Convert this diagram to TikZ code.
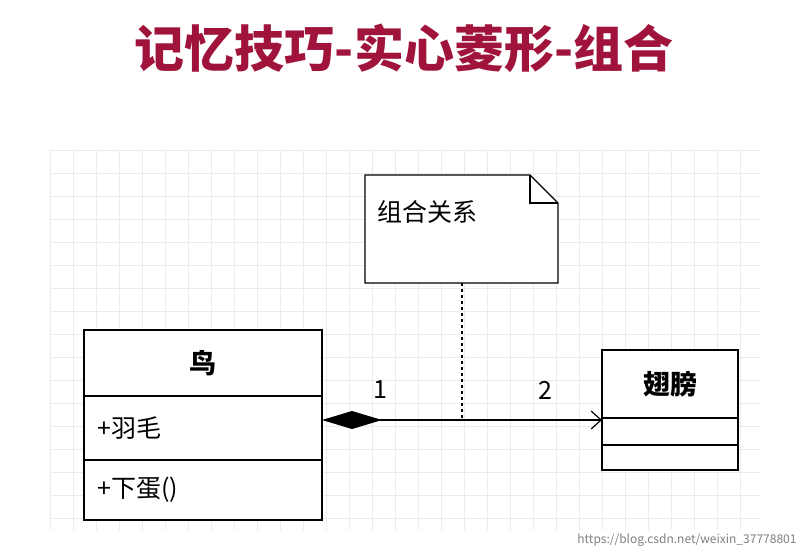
\documentclass[tikz,border=0pt]{standalone}
\usepackage{fontspec}
\setmainfont{Noto Sans CJK SC}
\usetikzlibrary{arrows.meta,shapes.geometric}
\definecolor{titlered}{RGB}{160,20,60}
\tikzset{box/.style={draw,line width=1.2pt,fill=white},
txt/.style={font=\fontsize{25}{30}\selectfont}}
\begin{document}
\begin{tikzpicture}[x=1pt,y=-1pt]
\useasboundingbox (0,0) rectangle (808,558);
\fill[white] (0,0) rectangle (808,558);
\foreach \x in {50,73,...,760} \draw[black!8,line width=0.5pt] (\x,150) -- (\x,530);
\foreach \y in {150,173,...,530} \draw[black!8,line width=0.5pt] (50,\y) -- (760,\y);
\node[titlered,font=\fontsize{50}{58}\selectfont\bfseries] (title) at (404,48) {记忆技巧-实心菱形-组合};
% note
\draw[box] (365,175) -- (530,175) -- (558,203) -- (558,283) -- (365,283) -- cycle;
\draw[line width=1.2pt] (530,175) -- (530,203) -- (558,203);
\node[txt,anchor=west] (note) at (374,212) {组合关系};
\coordinate (nb) at (462,283);
\coordinate (nl) at (462,420);
\draw[dashed,line width=1.2pt] (nb) -- (nl);
% bird
\draw[box] (84,330) rectangle (322,520);
\draw[line width=1.2pt] (84,396) -- (322,396) (84,460) -- (322,460);
\node[txt,font=\fontsize{27}{30}\selectfont\bfseries] (bird) at (203,363) {鸟};
\node[txt,anchor=west] (a1) at (94,428) {+羽毛};
\node[txt,anchor=west] (a2) at (94,490) {+下蛋()};
% wing
\draw[box] (602,350) rectangle (738,470);
\draw[line width=1.2pt] (602,418) -- (738,418) (602,445) -- (738,445);
\node[txt,font=\fontsize{27}{30}\selectfont\bfseries] (wing) at (670,384) {翅膀};
\coordinate (bs) at (322,420);
\coordinate (we) at (602,420);
\draw[line width=1.2pt,{Diamond[length=60pt,width=18pt]}-{Straight Barb[length=10pt,width=18pt]}] (bs) -- (we);
\node[txt] (m1) at (380,390) {1};
\node[txt] (m2) at (545,390) {2};
\node[gray,font=\fontsize{12}{14}\selectfont,anchor=east] (wm) at (800,540) {https://blog.csdn.net/weixin\_37778801};
\end{tikzpicture}
\end{document}
